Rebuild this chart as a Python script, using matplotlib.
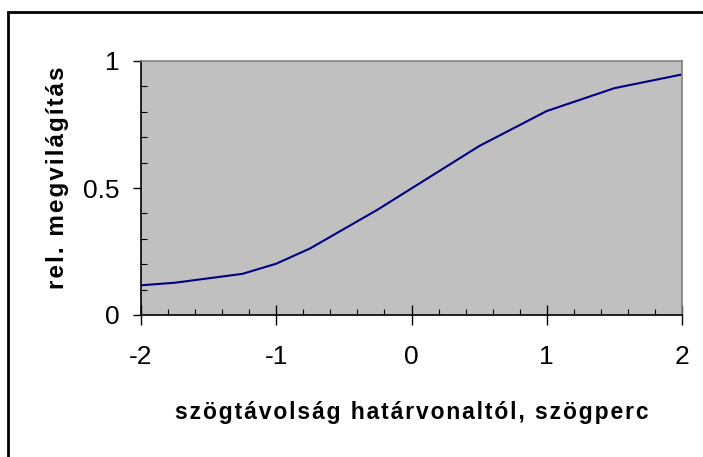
import matplotlib
matplotlib.use("Agg")
import matplotlib.pyplot as plt
from matplotlib.patches import Rectangle
from matplotlib.ticker import MultipleLocator

plt.rcParams['font.family'] = ['Liberation Sans', 'DejaVu Sans']

# angular distance from the boundary (arc minutes) and relative illumination
x_vals = [-2, -1.75, -1.25, -1, -0.75, -0.25, 0.5, 1, 1.5, 2]
y_vals = [0.117, 0.127, 0.162, 0.202, 0.262, 0.415, 0.665, 0.803, 0.893, 0.947]

x_ticks = [-2, -1, 0, 1, 2]
y_ticks = [0, 0.5, 1]
y_tick_labels = ['0', '0.5', '1']

x_title = 'szögtávolság határvonaltól, szögperc'
y_title = 'rel. megvilágítás'

fig = plt.figure(figsize=(7.03, 4.57), dpi=100)
ax = fig.add_axes([141 / 703, 1 - 315 / 457, 541 / 703, 254 / 457])
ax.set_facecolor('#C0C0C0')

ax.plot(x_vals, y_vals, color='#000080', linewidth=1.5)

ax.set_xlim(-2, 2)
ax.set_ylim(0, 1)
ax.set_xticks(x_ticks)
ax.set_xticklabels([str(t) for t in x_ticks])
ax.set_yticks(y_ticks)
ax.set_yticklabels(y_tick_labels)
ax.xaxis.set_minor_locator(MultipleLocator(0.2))
ax.yaxis.set_minor_locator(MultipleLocator(0.1))

ax.tick_params(axis='x', which='major', direction='inout', length=15, width=1, labelsize=19, pad=14)
ax.tick_params(axis='y', which='major', direction='out', length=6, width=1, labelsize=19, pad=9.5)
ax.tick_params(which='minor', direction='in', length=4.5, width=0.8)

for side in ('left', 'bottom'):
    ax.spines[side].set_color('black')
    ax.spines[side].set_linewidth(1.2)
for side in ('top', 'right'):
    ax.spines[side].set_color('#808080')
    ax.spines[side].set_linewidth(1.2)

# the original titles are drawn wide; hair spaces imitate the letter spacing
ax.set_xlabel('\u200a'.join(x_title), fontsize=16.5, fontweight='bold')
ax.xaxis.set_label_coords(0.5, -0.34)
ax.set_ylabel('\u200a'.join(y_title), fontsize=17.5, fontweight='bold')
ax.yaxis.set_label_coords(-0.133, 0.54)

# chart border
fig.patches.append(Rectangle((8 / 703, -0.1), 1.2, 1.1 - 12 / 457, transform=fig.transFigure,
                             fill=False, edgecolor='black', linewidth=2))

fig.savefig('out.png', dpi=100)
